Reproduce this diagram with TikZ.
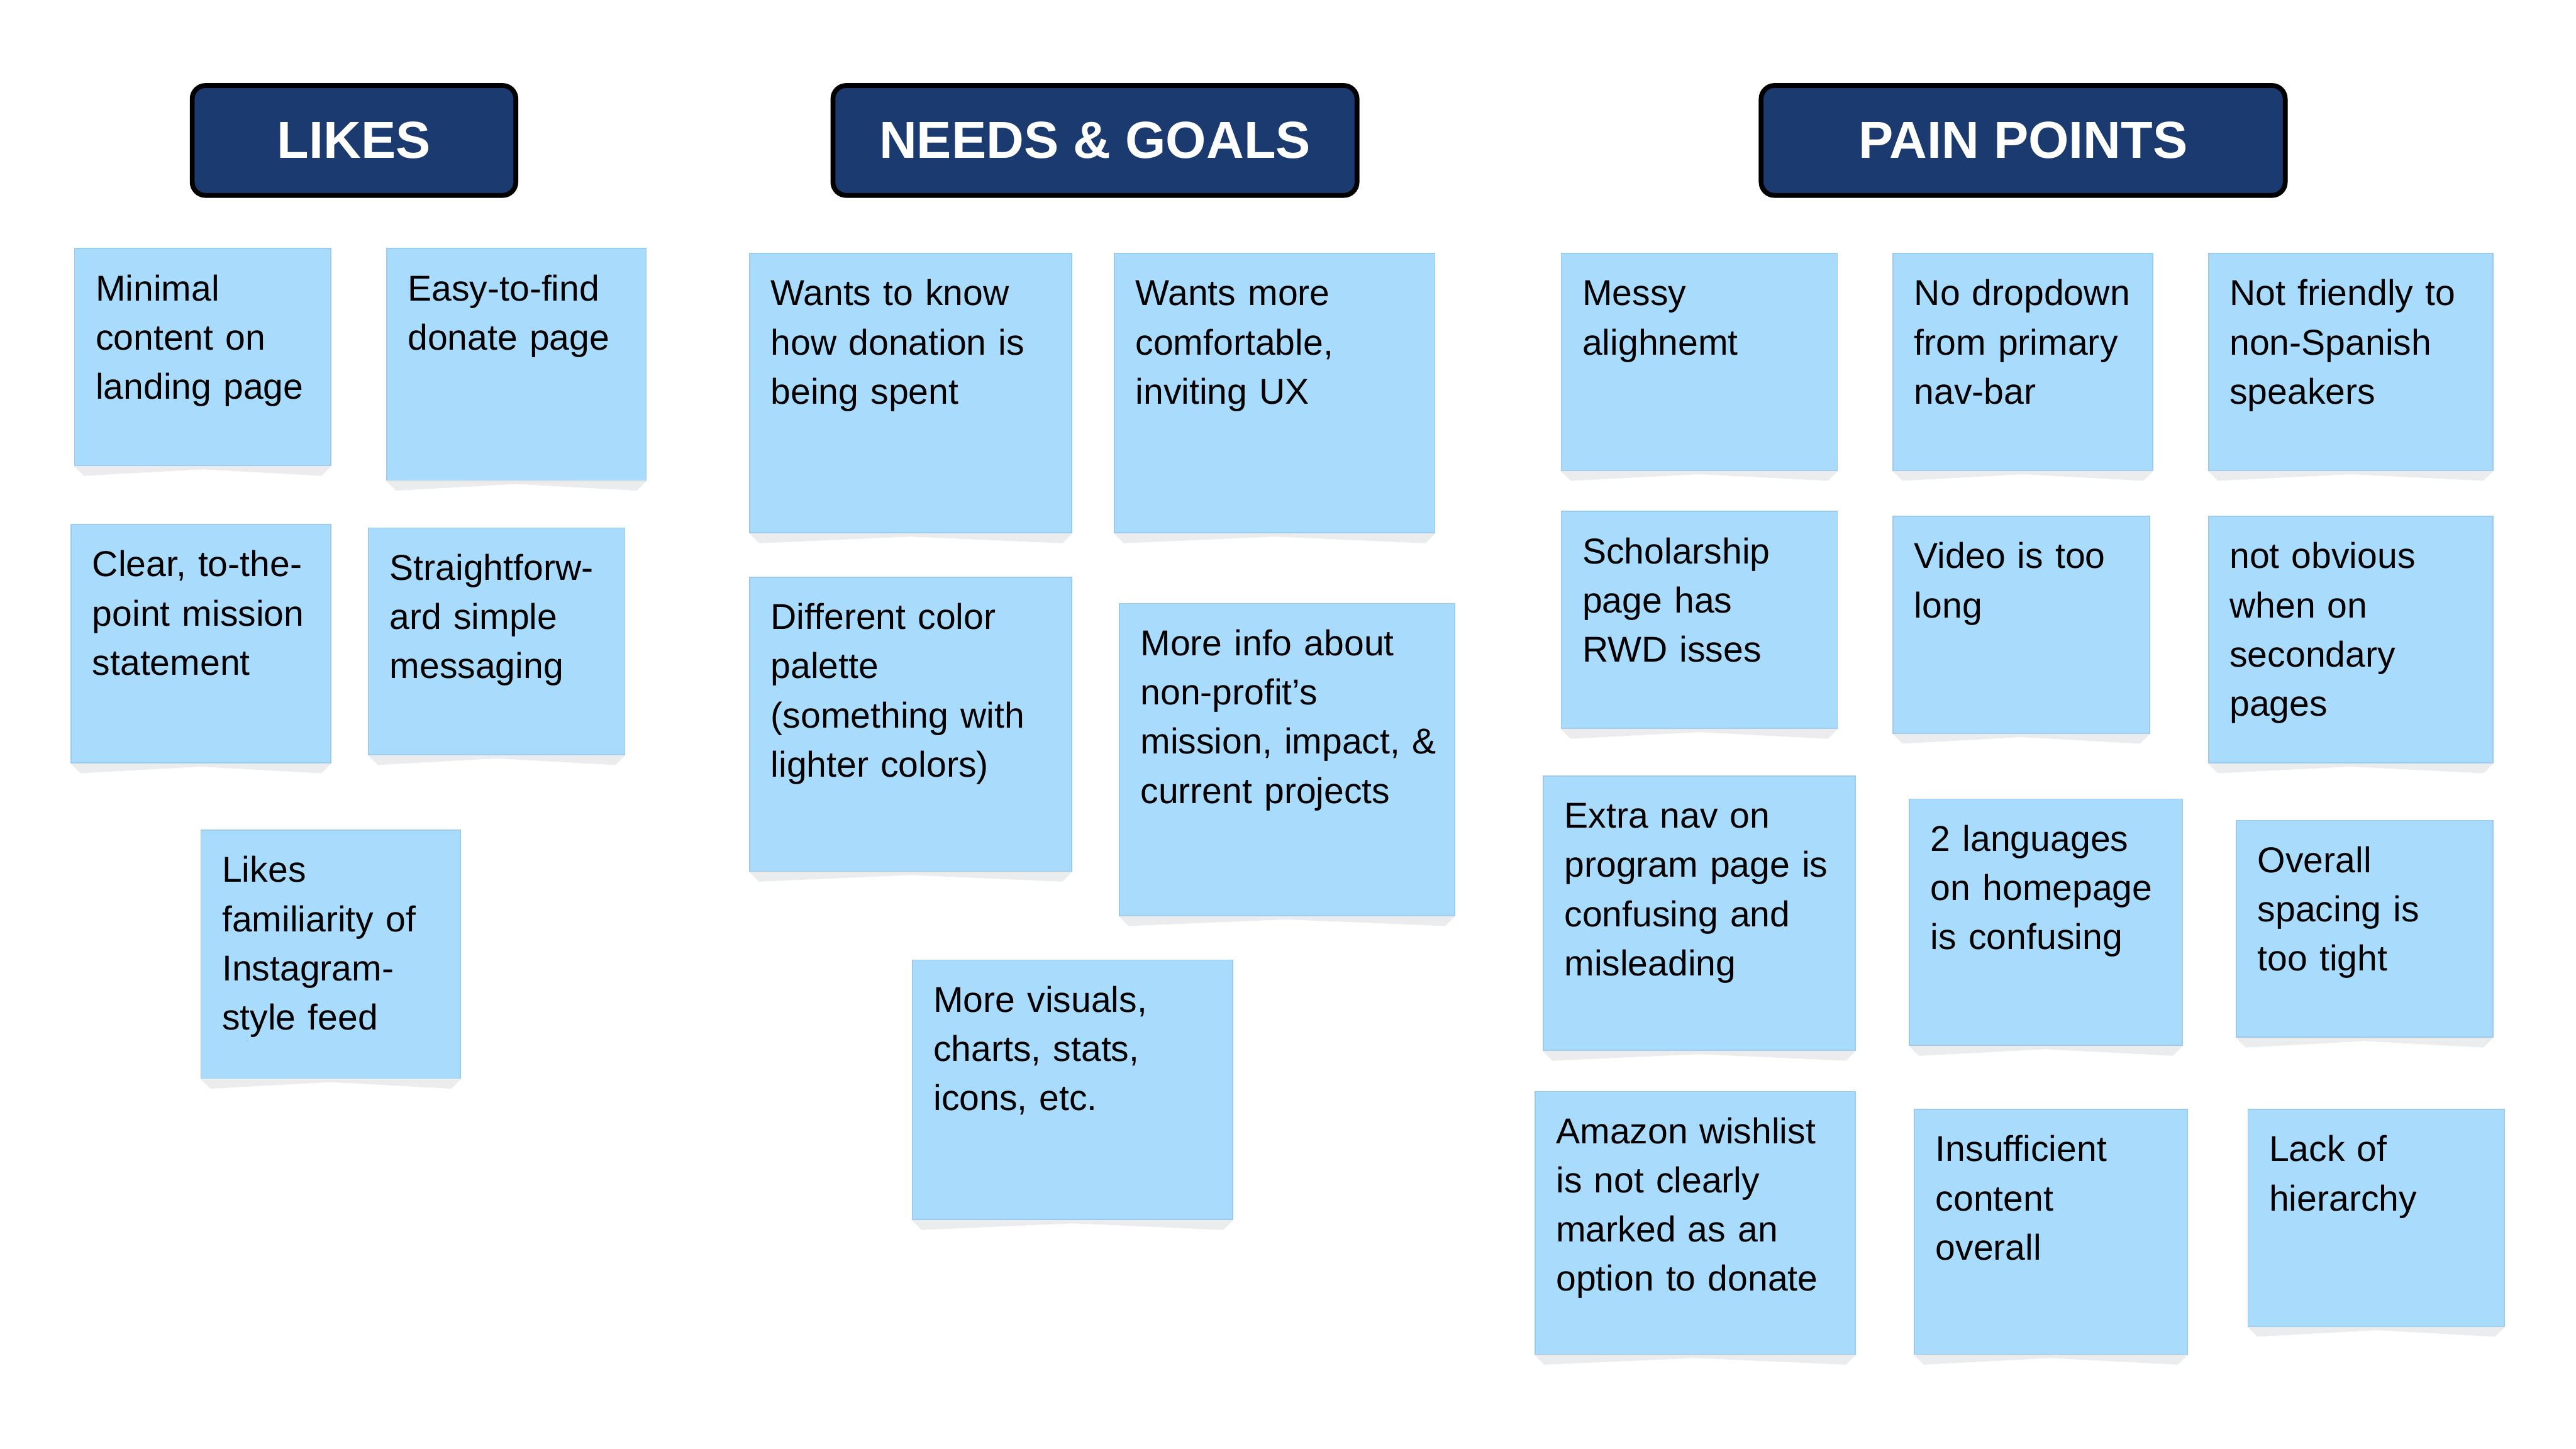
\documentclass[tikz,border=0pt]{standalone}
\usepackage{fontspec}
\setmainfont{Liberation Sans}
\usetikzlibrary{calc}

\definecolor{navy}{HTML}{1B3A6F}
\definecolor{notefill}{HTML}{A9DBFD}
\definecolor{noteedge}{HTML}{9CCBEE}
\definecolor{notefold}{HTML}{EBECEE}

\tikzset{
  header/.style={draw=black, line width=2.7pt, fill=navy, rounded corners=2.6mm,
    minimum height=21.5mm, text=white, font=\fontsize{29pt}{34pt}\selectfont\bfseries},
  note/.style={anchor=north west, draw=noteedge, fill=notefill, line width=0.6pt, inner sep=0pt},
  notetext/.style={anchor=base west, inner sep=0pt, text width=6cm, align=left,
    font=\fontsize{20pt}{27.4pt}\selectfont}
}

\begin{document}
\begin{tikzpicture}[x=0.3214mm, y=-0.3214mm]
  % background
  \useasboundingbox (0,0) rectangle (1568,882);
  \fill[white] (0,0) rectangle (1568,882);

  % headers
  \foreach \name/\x/\w/\txt in {likes/215.5/197/LIKES, needs/666.5/319/{NEEDS \& GOALS}, pain/1231.5/319/{PAIN POINTS}}
    \node[header, minimum width=\w*0.3214mm] (\name) at (\x,85.5) {\txt};

  % sticky notes
  \foreach \name/\x/\y/\w/\h/\txt in {
      minimal/45/151/156/132/{Minimal\\content on\\landing page},
      easy/235/151/158/141/{Easy-to-find\\donate page},
      clear/43/319/158/145/{Clear, to-the-\\point mission\\statement},
      straight/224/321/156/138/{Straightforw-\\ard simple\\messaging},
      insta/122/505/158/151/{Likes\\familiarity of\\Instagram-\\style feed},
      spent/456/154/196/170/{Wants to know\\how donation is\\being spent},
      comfy/678/154/195/170/{Wants more\\comfortable,\\inviting UX},
      palette/456/351/196/179/{Different color\\palette\\(something with\\lighter colors)},
      info/681/367/204/190/{More info about\\non-profit’s\\mission, impact, \&\\current projects},
      visuals/555/584/195/158/{More visuals,\\charts, stats,\\icons, etc.},
      messy/950/154/168/132/{Messy\\alighnemt},
      dropdown/1152/154/158/132/{No dropdown\\from primary\\nav-bar},
      spanish/1344/154/173/132/{Not friendly to\\non-Spanish\\speakers},
      scholar/950/311/168/132/{Scholarship\\page has\\RWD isses},
      video/1152/314/156/132/{Video is too\\long},
      secondary/1344/314/173/150/{not obvious\\when on\\secondary\\pages},
      extranav/939/472/190/167/{Extra nav on\\program page is\\confusing and\\misleading},
      languages/1162/486/166/150/{2 languages\\on homepage\\is confusing},
      spacing/1361/499/156/132/{Overall\\spacing is\\too tight},
      amazon/934/664/195/160/{Amazon wishlist\\is not clearly\\marked as an\\option to donate},
      insufficient/1165/675/166/149/{Insufficient\\content\\overall},
      hierarchy/1368/675/156/132/{Lack of\\hierarchy}}
  {
    \node[note, minimum width=\w*0.3214mm, minimum height=\h*0.3214mm] (\name) at (\x,\y) {};
    \fill[notefold] (\name.south west) -- (\name.south east) -- ([shift={(-6,6)}]\name.south east)
      -- ([shift={(0,2)}]\name.south) -- ([shift={(6,6)}]\name.south west) -- cycle;
    \node[notetext] (\name-txt) at ([shift={(13,32)}]\name.north west) {\txt};
  }

\end{tikzpicture}
\end{document}
